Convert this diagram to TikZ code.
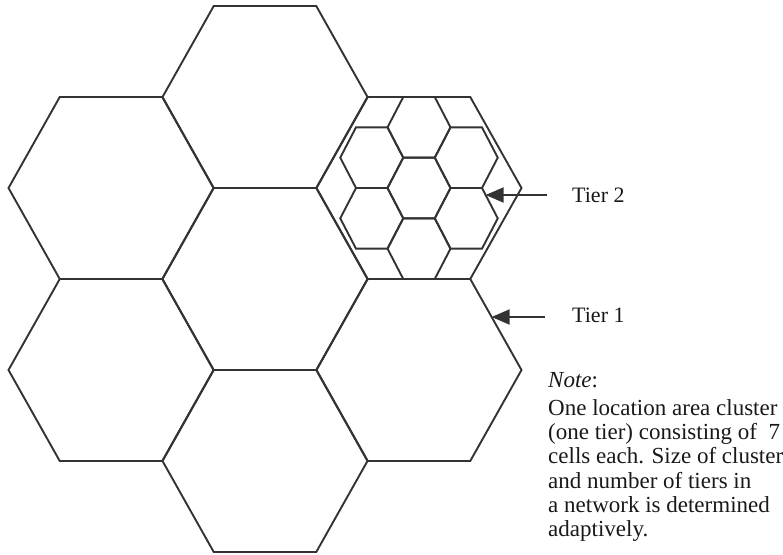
\documentclass[tikz,border=0pt]{standalone}
\usepackage{fontspec}
\setmainfont{Liberation Serif}
\usetikzlibrary{arrows.meta}

\begin{document}
\begin{tikzpicture}
[x=1pt,y=-1pt,%
  cellDecorate/.style={draw=black!80,line width=1.9pt,line join=miter},
  arrowDecorate/.style={draw=black!80,line width=1.9pt,-{Triangle[length=18pt,width=15pt]}},
  labelDecorate/.style={inner sep=0pt,text=black!90,font=\fontsize{22}{24}\selectfont},
  noteDecorate/.style={inner sep=0pt,text=black!90,align=left,font=\fontsize{23}{24.3}\selectfont}]
\useasboundingbox (0,0) rectangle (783,554);
%% large cells (tier 1)
\foreach \cellname/\x/\y in {
  top/265/97, left/111/188, middle/265/279, lowleft/111/370,
  bottom/265/461, upright/419/188, lowright/419/370}
{
  \coordinate (\cellname) at (\x,\y);
  \draw[cellDecorate] (\cellname) +(-102.5,0) -- +(-51.25,-91) -- +(51.25,-91)
    -- +(102.5,0) -- +(51.25,91) -- +(-51.25,91) -- cycle;
}
%% small cells (tier 2)
\foreach \cellname/\x/\y in {
  hub/419/188, north/419/127.33, south/419/248.67,
  northwest/371.75/157.67, northeast/466.25/157.67,
  southwest/371.75/218.33, southeast/466.25/218.33}
{
  \coordinate (\cellname) at (\x,\y);
  \draw[cellDecorate] (\cellname) +(-31.5,0) -- +(-15.75,-30.33) -- +(15.75,-30.33)
    -- +(31.5,0) -- +(15.75,30.33) -- +(-15.75,30.33) -- cycle;
}
%% labels and arrows
\coordinate (tiptwo) at (485.6,195);
\coordinate (tipone) at (491.6,317);
\node (tiertwo) at (572,202) [labelDecorate,anchor=base west] {Tier 2};
\node (tierone) at (572,322) [labelDecorate,anchor=base west] {Tier 1};
\draw[arrowDecorate,shorten <=25pt] (tiertwo.west |- tiptwo) -- (tiptwo);
\draw[arrowDecorate,shorten <=27pt] (tierone.west |- tipone) -- (tipone);
\node (note) at (548,372) [noteDecorate,anchor=north west]
  {\textit{Note}:\\[3.7pt]
   One location area cluster\\
   (one tier) consisting of~~7\\
   cells each. Size of cluster\\
   and number of tiers in\\
   a network is determined\\
   adaptively.};
\end{tikzpicture}
\end{document}
